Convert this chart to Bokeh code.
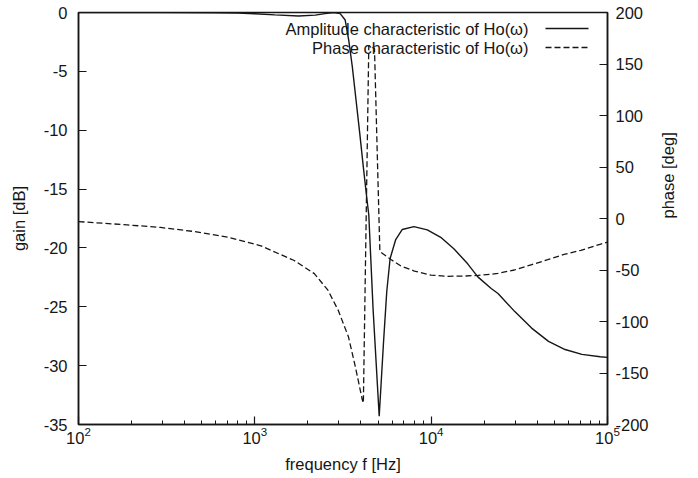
import math
from bokeh.plotting import figure
from bokeh.models import (Range1d, LinearAxis, FixedTicker, Label, Arrow)
from bokeh.embed import file_html
from bokeh.resources import INLINE

# ---- data ----
freq_amp = [100, 300, 600, 800, 1000, 1300, 1770, 2200, 2500, 2800, 3049,
            3254, 3407, 3571, 3749, 3933, 4123, 4326, 4429, 4686, 5074,
            5366, 5600, 5850, 6295, 6860, 7982, 9508, 11330, 13490, 16110,
            18390, 21900, 23940, 29810, 37120, 46290, 57480, 71590, 90940, 100000]
gain_db = [0, 0, -0.02, -0.05, -0.1, -0.2, -0.3, -0.22, -0.1, 0.0, -0.1,
           -0.64, -2.34, -4.6, -7.43, -10.22, -13.11, -15.91, -17.2, -25.25, -34.3,
           -28.05, -23.7, -20.9, -19.29, -18.43, -18.19, -18.47, -19.1, -20.09, -21.35,
           -22.46, -23.45, -23.87, -25.41, -26.81, -27.94, -28.63, -29.04, -29.24, -29.3]

freq_phase = [100, 189, 292, 451, 699, 1081, 1673, 2175, 2597, 2967, 3394,
              3714, 4069, 4125, 4429, 4770, 5117, 5913, 6745, 8028, 9989,
              12430, 15430, 18380, 21870, 23860, 29630, 36830, 45770, 56800,
              70620, 91620, 100000]
phase_deg = [-3, -6.2, -8.7, -12.6, -18.1, -26.5, -40.8, -53.5, -69.6, -88.9, -114.7,
             -143.8, -176.0, -179.2, 168, 165, -32, -39.8, -46.2, -51.0, -55.0,
             -56.1, -55.9, -55.2, -54.1, -53.3, -50.0, -45.0, -40.0, -34.9,
             -30.9, -24.9, -23.0]

gain_ticks = [-35, -30, -25, -20, -15, -10, -5, 0]
phase_ticks = [-200, -150, -100, -50, 0, 50, 100, 150, 200]
freq_major = [1e2, 1e3, 1e4, 1e5]
freq_minor = [m * d for d in (1e2, 1e3, 1e4) for m in range(2, 10)]

legend_amp = "Amplitude characteristic of Ho(\u03c9)"
legend_phase = "Phase characteristic of Ho(\u03c9)"

FONT = "Liberation Sans"
FS = "16.5px"
INK = "#161616"

p = figure(width=690, height=476, x_axis_type="log",
           x_range=Range1d(1e2, 1e5), y_range=Range1d(-35, 0),
           output_backend="svg", toolbar_location=None,
           min_border_left=78, min_border_right=83,
           min_border_top=12, min_border_bottom=52)
p.extra_y_ranges = {"phase": Range1d(-200, 200)}

p.outline_line_color = INK
p.outline_line_width = 1.5
p.xgrid.visible = False
p.ygrid.visible = False
p.background_fill_color = "white"
p.border_fill_color = "white"

# amplitude (solid) and phase (dashed)
p.line(freq_amp, gain_db, line_color=INK, line_width=1.4)
p.line(freq_phase, phase_deg, line_color=INK, line_width=1.3,
       line_dash="6 3", y_range_name="phase")

def style_axis(ax):
    ax.axis_line_color = INK
    ax.axis_line_width = 1.5
    ax.major_tick_line_color = INK
    ax.major_tick_line_width = 1.2
    ax.minor_tick_line_color = INK
    ax.minor_tick_line_width = 1.0
    ax.major_tick_in = 8
    ax.major_tick_out = 0
    ax.minor_tick_in = 4
    ax.minor_tick_out = 0
    ax.major_label_text_font = FONT
    ax.major_label_text_font_size = FS
    ax.major_label_text_color = INK
    ax.axis_label_text_font = FONT
    ax.axis_label_text_font_size = FS
    ax.axis_label_text_font_style = "normal"
    ax.axis_label_text_color = INK

# bottom log axis
xa = p.xaxis[0]
xa.ticker = FixedTicker(ticks=freq_major, minor_ticks=freq_minor)
style_axis(xa)
xa.axis_label = "frequency f [Hz]"
xa.major_label_standoff = 2
xa.axis_label_standoff = 8

# left gain axis
ya = p.yaxis[0]
ya.ticker = FixedTicker(ticks=gain_ticks, minor_ticks=[])
style_axis(ya)
ya.axis_label = "gain [dB]"
ya.major_label_standoff = 11
ya.axis_label_standoff = 13
ya.minor_tick_line_color = None
ya.major_label_overrides = {t: str(t) for t in gain_ticks}

# right phase axis
ra = LinearAxis(y_range_name="phase",
                ticker=FixedTicker(ticks=phase_ticks, minor_ticks=[]))
style_axis(ra)
ra.major_label_standoff = 8
ra.minor_tick_line_color = None
ra.major_label_overrides = {t: str(t) for t in phase_ticks}
ra.axis_label = "phase [deg]"
ra.axis_label_standoff = 16
try:
    ra.axis_label_orientation = math.pi / 2
except Exception:
    pass
p.add_layout(ra, "right")

# gnuplot-style key: text right-aligned, sample line to the right
for row_y, txt, dash in ((396, legend_amp, "solid"), (377, legend_phase, "6 3")):
    p.add_layout(Label(x=450, y=row_y, x_units="screen", y_units="screen",
                       text=txt, text_align="right", text_baseline="middle",
                       text_font=FONT, text_font_size=FS, text_color=INK))
    p.add_layout(Arrow(x_start=467, y_start=row_y, x_end=510, y_end=row_y,
                       start_units="screen", end_units="screen",
                       start=None, end=None, line_color=INK,
                       line_width=1.3, line_dash=dash))

open("out.html", "w").write(file_html(p, INLINE))
